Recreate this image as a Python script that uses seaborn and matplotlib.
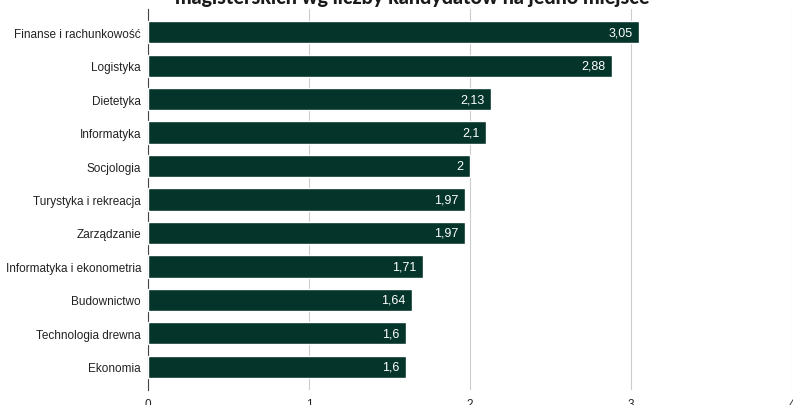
import matplotlib
matplotlib.use("Agg")
import matplotlib.pyplot as plt
import seaborn as sns
import pandas as pd

# data
kierunki = ["Finanse i rachunkowość", "Logistyka", "Dietetyka", "Informatyka",
            "Socjologia", "Turystyka i rekreacja", "Zarządzanie",
            "Informatyka i ekonometria", "Budownictwo", "Technologia drewna", "Ekonomia"]
kandydaci = [3.05, 2.88, 2.13, 2.1, 2.0, 1.97, 1.97, 1.71, 1.64, 1.6, 1.6]
etykiety = ["3,05", "2,88", "2,13", "2,1", "2", "1,97", "1,97", "1,71", "1,64", "1,6", "1,6"]

df = pd.DataFrame({"kierunek": kierunki, "kandydaci": kandydaci})

sns.set_theme(style="white")
plt.rcParams['font.family'] = ['Liberation Sans', 'DejaVu Sans']

fig = plt.figure(figsize=(7.93, 4.06), dpi=100)
ax = fig.add_axes([148 / 793, 1 - 391 / 406, 644 / 793, 381 / 406])

sns.barplot(data=df, x="kandydaci", y="kierunek", color="#04342a",
            saturation=1, width=0.66, ax=ax, zorder=3)

for i, (v, t) in enumerate(zip(kandydaci, etykiety)):
    ax.text(v - 0.04, i, t, ha="right", va="center", color="white", fontsize=9, zorder=4)

ax.set_xlim(0, 4)
ax.set_ylim(10.69, -0.69)
ax.set_xticks([0, 1, 2, 3, 4])
ax.set_xticklabels(["0", "1", "2", "3", "4"])
ax.grid(axis="x", color="#cccccc", linewidth=0.8, zorder=0)
ax.set_xlabel("")
ax.set_ylabel("")
for s in ["top", "right", "bottom"]:
    ax.spines[s].set_visible(False)
ax.spines["left"].set_color("#444444")
ax.spines["left"].set_linewidth(0.8)
ax.tick_params(axis="y", labelsize=8.5, colors="#222222", length=0, pad=5)
ax.tick_params(axis="x", labelsize=8.5, colors="#222222", length=0, pad=6)

fig.text(412 / 793, 1 - 4 / 406, "magisterskich wg liczby kandydatów na jedno miejsce",
         ha="center", va="baseline", fontsize=14.2, fontweight="black",
         family=["Lato", "DejaVu Sans"], color="#1a1a1a")

fig.savefig("out.png", dpi=100)
